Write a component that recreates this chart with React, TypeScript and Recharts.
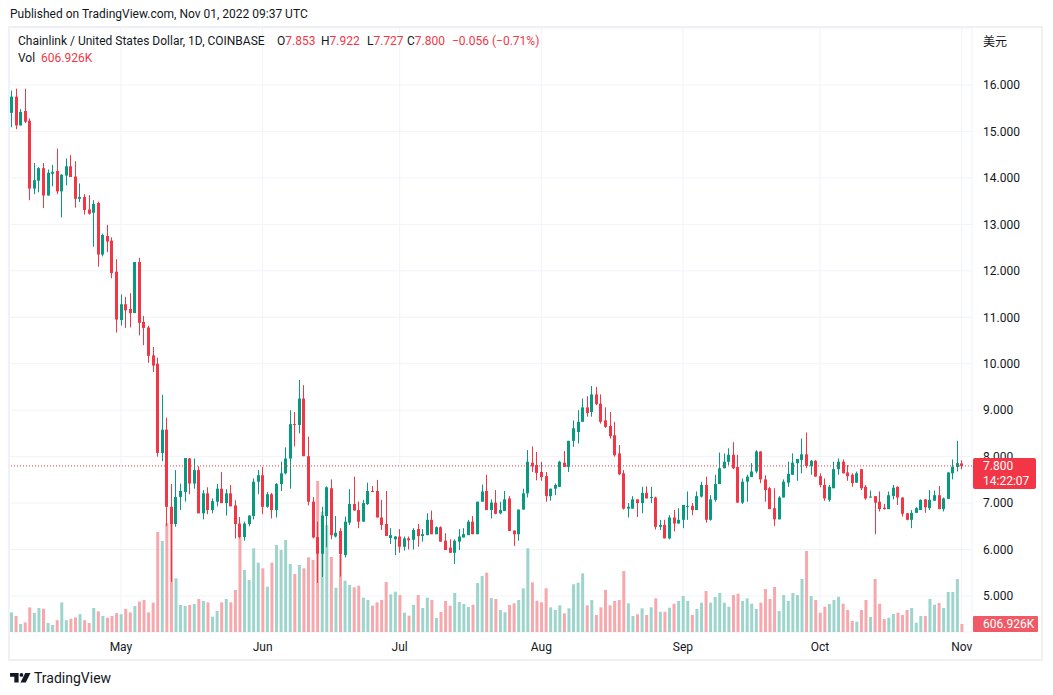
import { Bar, CartesianGrid, Cell, ComposedChart, ReferenceLine, XAxis, YAxis } from 'recharts';

// LINK/USD daily candles, Apr 07 2022 -> Nov 01 2022 (COINBASE)
const START_DATE = '2022-04-07';

const OPEN = [
  15.40, 15.75, 15.13, 15.44, 15.23, 13.77, 13.94, 14.21, 13.62, 14.09,
  14.15, 13.71, 14.05, 14.25, 14.03, 13.55, 13.59, 13.32, 13.25, 13.46,
  12.35, 12.75, 12.65, 11.98, 10.94, 11.28, 11.18, 11.09, 12.19, 10.90,
  10.78, 10.18, 10.00, 8.08, 8.58, 6.92, 6.55, 7.13, 7.24, 7.96,
  7.42, 7.71, 6.78, 7.21, 6.85, 7.03, 7.31, 7.00, 7.21, 6.95,
  6.56, 6.27, 6.55, 6.72, 7.46, 7.60, 6.92, 7.19, 6.85, 7.41,
  7.64, 7.96, 8.70, 8.68, 9.25, 8.01, 7.03, 6.27, 5.91, 6.72,
  7.32, 6.28, 6.40, 5.88, 6.58, 6.98, 6.85, 6.60, 6.98, 7.26,
  7.26, 6.69, 6.55, 6.25, 6.22, 6.28, 6.06, 6.24, 6.21, 6.44,
  6.29, 6.31, 6.64, 6.33, 6.48, 6.19, 6.04, 5.93, 6.17, 6.26,
  6.31, 6.60, 6.33, 7.03, 7.26, 6.85, 7.01, 6.78, 6.83, 7.10,
  6.41, 6.33, 6.86, 7.21, 7.87, 7.82, 7.67, 7.58, 7.15, 7.31,
  7.35, 7.87, 7.78, 8.34, 8.53, 8.75, 9.06, 8.96, 9.34, 9.14,
  8.78, 8.66, 8.46, 8.07, 7.64, 6.88, 6.88, 7.08, 7.00, 7.22,
  7.12, 7.12, 6.49, 6.53, 6.24, 6.69, 6.56, 6.64, 6.92, 6.94,
  6.85, 7.14, 7.39, 6.64, 7.07, 7.41, 7.75, 7.89, 8.04, 7.78,
  7.01, 7.46, 7.56, 7.68, 8.11, 7.51, 7.32, 6.89, 6.65, 7.12,
  7.44, 7.61, 7.86, 7.93, 8.05, 7.80, 7.91, 7.58, 7.39, 7.07,
  7.32, 7.73, 7.89, 7.66, 7.61, 7.44, 7.73, 7.35, 7.12, 7.15,
  7.03, 6.90, 6.87, 7.15, 7.35, 7.12, 6.78, 6.64, 6.79, 6.85,
  7.08, 6.89, 7.05, 7.17, 6.87, 7.09, 7.64, 7.78, 7.853,
];

const HIGH = [
  15.88, 15.92, 15.48, 15.92, 15.28, 14.32, 14.23, 14.32, 14.18, 14.28,
  14.63, 14.08, 14.42, 14.49, 14.36, 13.88, 13.65, 13.63, 13.52, 13.49,
  12.80, 12.99, 12.72, 12.25, 11.49, 11.44, 11.52, 12.19, 12.28, 11.03,
  10.82, 10.36, 10.13, 9.33, 8.84, 7.41, 7.71, 7.42, 7.97, 7.97,
  7.96, 7.79, 7.28, 7.34, 7.10, 7.41, 7.67, 7.30, 7.39, 7.06,
  6.70, 6.60, 6.74, 7.53, 7.71, 7.78, 7.24, 7.22, 7.43, 7.89,
  8.20, 9.00, 8.96, 9.65, 9.54, 8.43, 7.13, 6.60, 6.92, 7.36,
  7.51, 6.72, 6.46, 6.71, 7.30, 7.57, 7.03, 7.07, 7.44, 7.37,
  7.50, 7.07, 7.26, 6.46, 6.29, 6.44, 6.28, 6.28, 6.46, 6.55,
  6.44, 6.78, 6.84, 6.50, 6.50, 6.35, 6.22, 6.22, 6.44, 6.46,
  6.64, 6.72, 7.03, 7.40, 7.61, 7.08, 7.28, 7.03, 7.26, 7.15,
  6.41, 6.86, 7.31, 8.14, 8.22, 8.10, 7.89, 7.67, 7.31, 7.42,
  7.91, 8.12, 8.34, 8.78, 9.00, 9.25, 9.30, 9.52, 9.50, 9.34,
  9.06, 8.96, 8.75, 8.25, 7.71, 7.00, 7.15, 7.08, 7.35, 7.36,
  7.35, 7.14, 6.64, 6.64, 6.74, 6.85, 6.89, 6.96, 7.25, 7.00,
  7.25, 7.46, 7.57, 7.17, 7.61, 8.09, 8.07, 8.18, 8.31, 8.04,
  7.53, 7.61, 7.86, 8.14, 8.12, 7.60, 7.35, 7.32, 7.15, 7.51,
  7.89, 8.07, 7.95, 8.39, 8.52, 7.93, 7.93, 7.64, 7.53, 7.39,
  7.89, 7.96, 7.94, 7.82, 7.64, 7.68, 7.73, 7.39, 7.27, 7.15,
  7.25, 6.98, 7.25, 7.39, 7.36, 7.12, 6.79, 6.85, 6.91, 7.08,
  7.08, 7.28, 7.27, 7.37, 7.12, 7.66, 7.94, 8.34, 7.922,
];

const LOW = [
  15.09, 15.05, 15.13, 15.18, 13.52, 13.65, 13.69, 13.35, 13.62, 13.82,
  13.65, 13.15, 13.84, 14.02, 13.36, 13.48, 13.21, 13.21, 12.52, 12.09,
  12.31, 12.40, 11.84, 10.67, 10.82, 10.77, 10.78, 11.09, 10.61, 10.40,
  10.02, 9.82, 8.00, 7.90, 6.50, 5.30, 6.49, 6.85, 7.03, 7.19,
  7.31, 6.78, 6.65, 6.76, 6.78, 6.93, 7.00, 6.73, 6.93, 6.24,
  6.24, 6.19, 6.50, 6.65, 7.19, 6.76, 6.90, 6.67, 6.69, 7.26,
  7.62, 7.31, 8.22, 8.50, 8.01, 6.95, 6.24, 5.28, 5.41, 6.05,
  6.22, 6.26, 5.42, 5.83, 6.53, 6.84, 6.46, 6.60, 6.96, 7.24,
  6.69, 6.42, 6.29, 6.12, 5.88, 5.93, 5.98, 6.00, 6.00, 6.06,
  6.17, 6.31, 6.33, 6.33, 6.17, 5.99, 5.93, 5.69, 5.99, 6.26,
  6.31, 6.33, 6.33, 7.03, 6.85, 6.67, 6.76, 6.76, 6.83, 6.40,
  6.08, 6.19, 6.86, 7.12, 7.67, 7.49, 7.48, 7.03, 7.05, 7.17,
  7.35, 7.78, 7.67, 8.21, 8.28, 8.75, 8.86, 8.86, 9.11, 8.71,
  8.62, 8.39, 8.00, 7.60, 6.86, 6.69, 6.88, 6.70, 6.78, 7.10,
  7.00, 6.43, 6.42, 6.24, 6.22, 6.39, 6.56, 6.46, 6.64, 6.74,
  6.85, 7.12, 6.58, 6.62, 7.03, 7.41, 7.75, 7.82, 7.73, 7.01,
  6.98, 7.03, 7.56, 7.64, 7.43, 7.03, 6.87, 6.51, 6.65, 7.12,
  7.35, 7.61, 7.48, 7.64, 7.75, 7.61, 7.57, 7.34, 7.05, 7.03,
  7.32, 7.61, 7.64, 7.48, 7.35, 7.44, 7.28, 7.07, 7.12, 6.33,
  6.82, 6.86, 6.87, 7.08, 6.96, 6.71, 6.63, 6.46, 6.79, 6.85,
  6.79, 6.85, 7.05, 6.87, 6.82, 7.09, 7.51, 7.68, 7.727,
];

const CLOSE = [
  15.75, 15.13, 15.42, 15.21, 13.77, 13.95, 14.21, 13.62, 14.11, 14.13,
  13.71, 14.07, 14.25, 14.02, 13.55, 13.59, 13.31, 13.23, 13.44, 12.35,
  12.77, 12.63, 11.95, 10.95, 11.28, 11.15, 11.09, 12.19, 10.88, 10.77,
  10.17, 9.96, 8.08, 8.58, 6.92, 6.55, 7.13, 7.26, 7.97, 7.42,
  7.71, 6.78, 7.21, 6.85, 7.04, 7.31, 7.00, 7.21, 6.93, 6.55,
  6.27, 6.56, 6.73, 7.46, 7.60, 6.92, 7.19, 6.85, 7.41, 7.64,
  7.96, 8.70, 8.68, 9.25, 8.01, 7.03, 6.26, 5.91, 6.73, 7.34,
  6.31, 6.36, 5.90, 6.60, 6.98, 6.84, 6.60, 7.00, 7.26, 7.24,
  6.69, 6.53, 6.29, 6.31, 6.28, 6.06, 6.24, 6.20, 6.42, 6.29,
  6.33, 6.64, 6.33, 6.48, 6.17, 5.99, 5.93, 6.19, 6.28, 6.33,
  6.60, 6.33, 7.03, 7.25, 6.85, 7.01, 6.77, 6.85, 7.08, 6.40,
  6.33, 6.86, 7.21, 7.89, 7.79, 7.65, 7.56, 7.15, 7.31, 7.39,
  7.89, 7.78, 8.34, 8.61, 8.75, 9.06, 8.94, 9.34, 9.13, 8.75,
  8.64, 8.44, 8.03, 7.62, 6.88, 6.92, 7.08, 7.00, 7.22, 7.10,
  7.13, 6.49, 6.53, 6.24, 6.69, 6.56, 6.64, 6.96, 6.94, 6.85,
  7.15, 7.39, 6.64, 7.08, 7.41, 7.75, 7.89, 8.04, 7.75, 7.01,
  7.46, 7.57, 7.68, 8.11, 7.51, 7.28, 6.87, 6.65, 7.12, 7.46,
  7.63, 7.87, 7.95, 8.05, 7.80, 7.91, 7.57, 7.39, 7.10, 7.35,
  7.73, 7.89, 7.64, 7.58, 7.43, 7.64, 7.32, 7.10, 7.14, 7.01,
  6.87, 6.87, 7.17, 7.33, 7.12, 6.77, 6.64, 6.79, 6.89, 7.07,
  6.91, 7.07, 7.17, 6.87, 7.10, 7.66, 7.78, 7.86, 7.800,
];

// volume in thousands
const VOLUME = [
  1490, 1216, 608, 730, 1870, 1444, 1824, 1763, 684, 532,
  897, 2250, 897, 1003, 1110, 1360, 897, 684, 1824, 1573,
  1216, 1087, 1216, 1436, 1360, 1763, 1490, 1976, 2310, 2432,
  1490, 2227, 7600, 6916, 8284, 8512, 4081, 2052, 1976, 2052,
  2128, 2508, 2356, 2257, 1163, 1596, 2257, 2508, 2257, 3192,
  7243, 4712, 3952, 6361, 5267, 4841, 3443, 5267, 6612, 6232,
  6992, 5168, 4408, 5092, 4841, 5677, 5472, 11476, 9143, 8132,
  5700, 3367, 5852, 3899, 3572, 3397, 3519, 2607, 2432, 1999,
  2257, 2432, 3800, 2865, 3063, 2812, 1467, 1239, 2052, 2812,
  1824, 2607, 2432, 1064, 1520, 2356, 1999, 2964, 2280, 2128,
  1900, 2075, 3724, 4256, 4507, 2584, 2508, 1672, 1497, 2052,
  2181, 2432, 3321, 6361, 3777, 2379, 2257, 3321, 1877, 1672,
  2029, 1421, 1801, 3625, 3747, 4461, 2029, 2432, 1292, 1877,
  3192, 2029, 2356, 2432, 4636, 2181, 1216, 1345, 1801, 1292,
  1877, 2561, 1543, 1543, 1847, 2151, 2356, 2736, 2356, 1292,
  1748, 2227, 3116, 2227, 2660, 2964, 2227, 1923, 2812, 2911,
  2356, 2561, 2151, 1748, 2227, 3268, 2508, 3420, 1596, 2812,
  2356, 2964, 2812, 4028, 6156, 2736, 2432, 1467, 1923, 2128,
  2432, 2683, 2151, 1672, 836, 783, 1672, 2432, 1140, 4028,
  2151, 988, 1087, 1368, 1467, 1292, 1672, 1824, 707, 1216,
  1216, 2508, 2075, 2204, 1824, 3040, 3040, 4028, 606.926,
];

const MONTH_TICKS = ['2022-05-01', '2022-06-01', '2022-07-01', '2022-08-01', '2022-09-01', '2022-10-01', '2022-11-01'];
const MONTH_LABELS = ['May', 'Jun', 'Jul', 'Aug', 'Sep', 'Oct', 'Nov'];
const PRICE_TICKS = [5, 6, 7, 8, 9, 10, 11, 12, 13, 14, 15, 16];
const LAST_PRICE = 7.8;

const UP = '#089981';
const DOWN = '#F23645';
const UP_VOL = '#9dd5cc';
const DOWN_VOL = '#f6a8ad';
const GRID = '#f0f3fa';
const TEXT = '#131722';
const FONT = 'Roboto, "Noto Sans", sans-serif';

function buildDates(start: string, n: number): string[] {
  const out: string[] = [];
  const d = new Date(start + 'T00:00:00Z');
  for (let i = 0; i < n; i++) {
    out.push(d.toISOString().slice(0, 10));
    d.setUTCDate(d.getUTCDate() + 1);
  }
  return out;
}

const rows = buildDates(START_DATE, CLOSE.length).map((date, i) => ({
  date,
  open: OPEN[i],
  high: HIGH[i],
  low: LOW[i],
  close: CLOSE[i],
  range: [LOW[i], HIGH[i]],
  volume: VOLUME[i],
  up: CLOSE[i] >= OPEN[i],
}));

function Candle(props: any) {
  const { x, y, width, height, payload } = props;
  if (!payload || x == null) return null;
  const { open, high, low, close, up } = payload;
  const top = Math.min(y, y + height);
  const bottom = Math.max(y, y + height);
  const span = high - low;
  const toY = (v: number) => (span === 0 ? top : top + ((high - v) / span) * (bottom - top));
  const cx = Math.floor(x + width / 2);
  const bTop = toY(Math.max(open, close));
  const bBot = toY(Math.min(open, close));
  const color = up ? UP : DOWN;
  return (
    <g>
      <line x1={cx + 0.5} x2={cx + 0.5} y1={top} y2={bottom} stroke={color} strokeWidth={1} />
      <rect x={cx - 1} y={bTop} width={3} height={Math.max(1, bBot - bTop)} fill={color} />
    </g>
  );
}

function Txt({ x, y, children, color = TEXT, size = 12, family = FONT }: any) {
  return (
    <div
      style={{
        position: 'absolute',
        left: x,
        top: y - 7,
        lineHeight: '14px',
        fontSize: size,
        color,
        fontFamily: family,
        whiteSpace: 'nowrap',
      }}
    >
      {children}
    </div>
  );
}

export default function App() {
  return (
    <div style={{ position: 'relative', width: 1053, height: 695, background: '#ffffff', fontFamily: FONT }}>
      <style>{'body{margin:0}'}</style>

      <div
        style={{
          position: 'absolute',
          left: 8,
          top: 26,
          width: 1035,
          height: 635,
          border: '2px solid #eef0f3',
          boxSizing: 'border-box',
        }}
      />

      <div style={{ position: 'absolute', left: 0, top: 0 }}>
        <ComposedChart
          width={1053}
          height={695}
          data={rows}
          margin={{ top: 28, right: 0, bottom: 0, left: 9 }}
        >
          <CartesianGrid xAxisId="main" yAxisId="price" stroke={GRID} strokeWidth={1} />
          <XAxis
            xAxisId="main"
            dataKey="date"
            ticks={MONTH_TICKS}
            interval={0}
            height={63}
            padding={{ left: 0, right: 8 }}
            axisLine={false}
            tickLine={false}
            tickSize={0}
            tickMargin={10}
            tick={{ fontSize: 12, fill: TEXT, fontFamily: FONT }}
            tickFormatter={(v: string) => MONTH_LABELS[MONTH_TICKS.indexOf(v)] ?? ''}
          />
          <XAxis xAxisId="vol" dataKey="date" hide height={0} padding={{ left: 0, right: 8 }} />
          <YAxis
            yAxisId="price"
            orientation="right"
            width={81}
            domain={[4.225, 17.227]}
            ticks={PRICE_TICKS}
            allowDataOverflow
            axisLine={false}
            tickLine={false}
            tickSize={0}
            tickMargin={11}
            tick={{ fontSize: 12, fill: TEXT, fontFamily: FONT, textAnchor: 'start' }}
            tickFormatter={(v: number) => v.toFixed(3)}
          />
          <YAxis yAxisId="vol" orientation="right" hide width={0} domain={[0, 45904]} allowDataOverflow />
          <Bar xAxisId="vol" yAxisId="vol" dataKey="volume" barSize={3} isAnimationActive={false}>
            {rows.map((r) => (
              <Cell key={r.date} fill={r.up ? UP_VOL : DOWN_VOL} />
            ))}
          </Bar>
          <ReferenceLine
            xAxisId="main"
            yAxisId="price"
            y={LAST_PRICE}
            stroke={DOWN}
            strokeDasharray="1 2"
            strokeWidth={1}
          />
          <Bar xAxisId="main" yAxisId="price" dataKey="range" shape={Candle} isAnimationActive={false} />
        </ComposedChart>
      </div>

      <Txt x={10} y={14}>Published on TradingView.com, Nov 01, 2022 09:37 UTC</Txt>

      <Txt x={18} y={41}>Chainlink / United States Dollar, 1D, COINBASE</Txt>
      <Txt x={277} y={41}>O<span style={{ color: DOWN }}>7.853</span></Txt>
      <Txt x={321} y={41}>H<span style={{ color: DOWN }}>7.922</span></Txt>
      <Txt x={367} y={41}>L<span style={{ color: DOWN }}>7.727</span></Txt>
      <Txt x={407} y={41}>C<span style={{ color: DOWN }}>7.800</span></Txt>
      <Txt x={452} y={41} color={DOWN}>−0.056 (−0.71%)</Txt>
      <Txt x={18} y={58}>Vol</Txt>
      <Txt x={41} y={58} color={DOWN}>606.926K</Txt>

      <Txt x={983} y={41} family='"Noto Sans CJK SC", sans-serif'>美元</Txt>

      <div
        style={{
          position: 'absolute',
          left: 973,
          top: 458,
          width: 63,
          height: 31,
          background: DOWN,
          borderRadius: 2,
        }}
      />
      <Txt x={983} y={466} color="#ffffff">7.800</Txt>
      <Txt x={983} y={481} color="#ffffff">14:22:07</Txt>

      <div
        style={{
          position: 'absolute',
          left: 973,
          top: 616,
          width: 65,
          height: 16,
          background: '#ef5a66',
          borderRadius: 1,
        }}
      />
      <Txt x={983} y={624} color="#ffffff">606.926K</Txt>

      <svg style={{ position: 'absolute', left: 10, top: 673 }} width={21} height={9.5} viewBox="0 0 22 10">
        <path d="M0 0 H9 V10 H4.5 V4 H0 Z" fill={TEXT} />
        <circle cx={12} cy={2} r={2} fill={TEXT} />
        <path d="M16 0 H21.5 L16.5 10 H11 Z" fill={TEXT} />
      </svg>
      <Txt x={34} y={678} size={14}>TradingView</Txt>
    </div>
  );
}
